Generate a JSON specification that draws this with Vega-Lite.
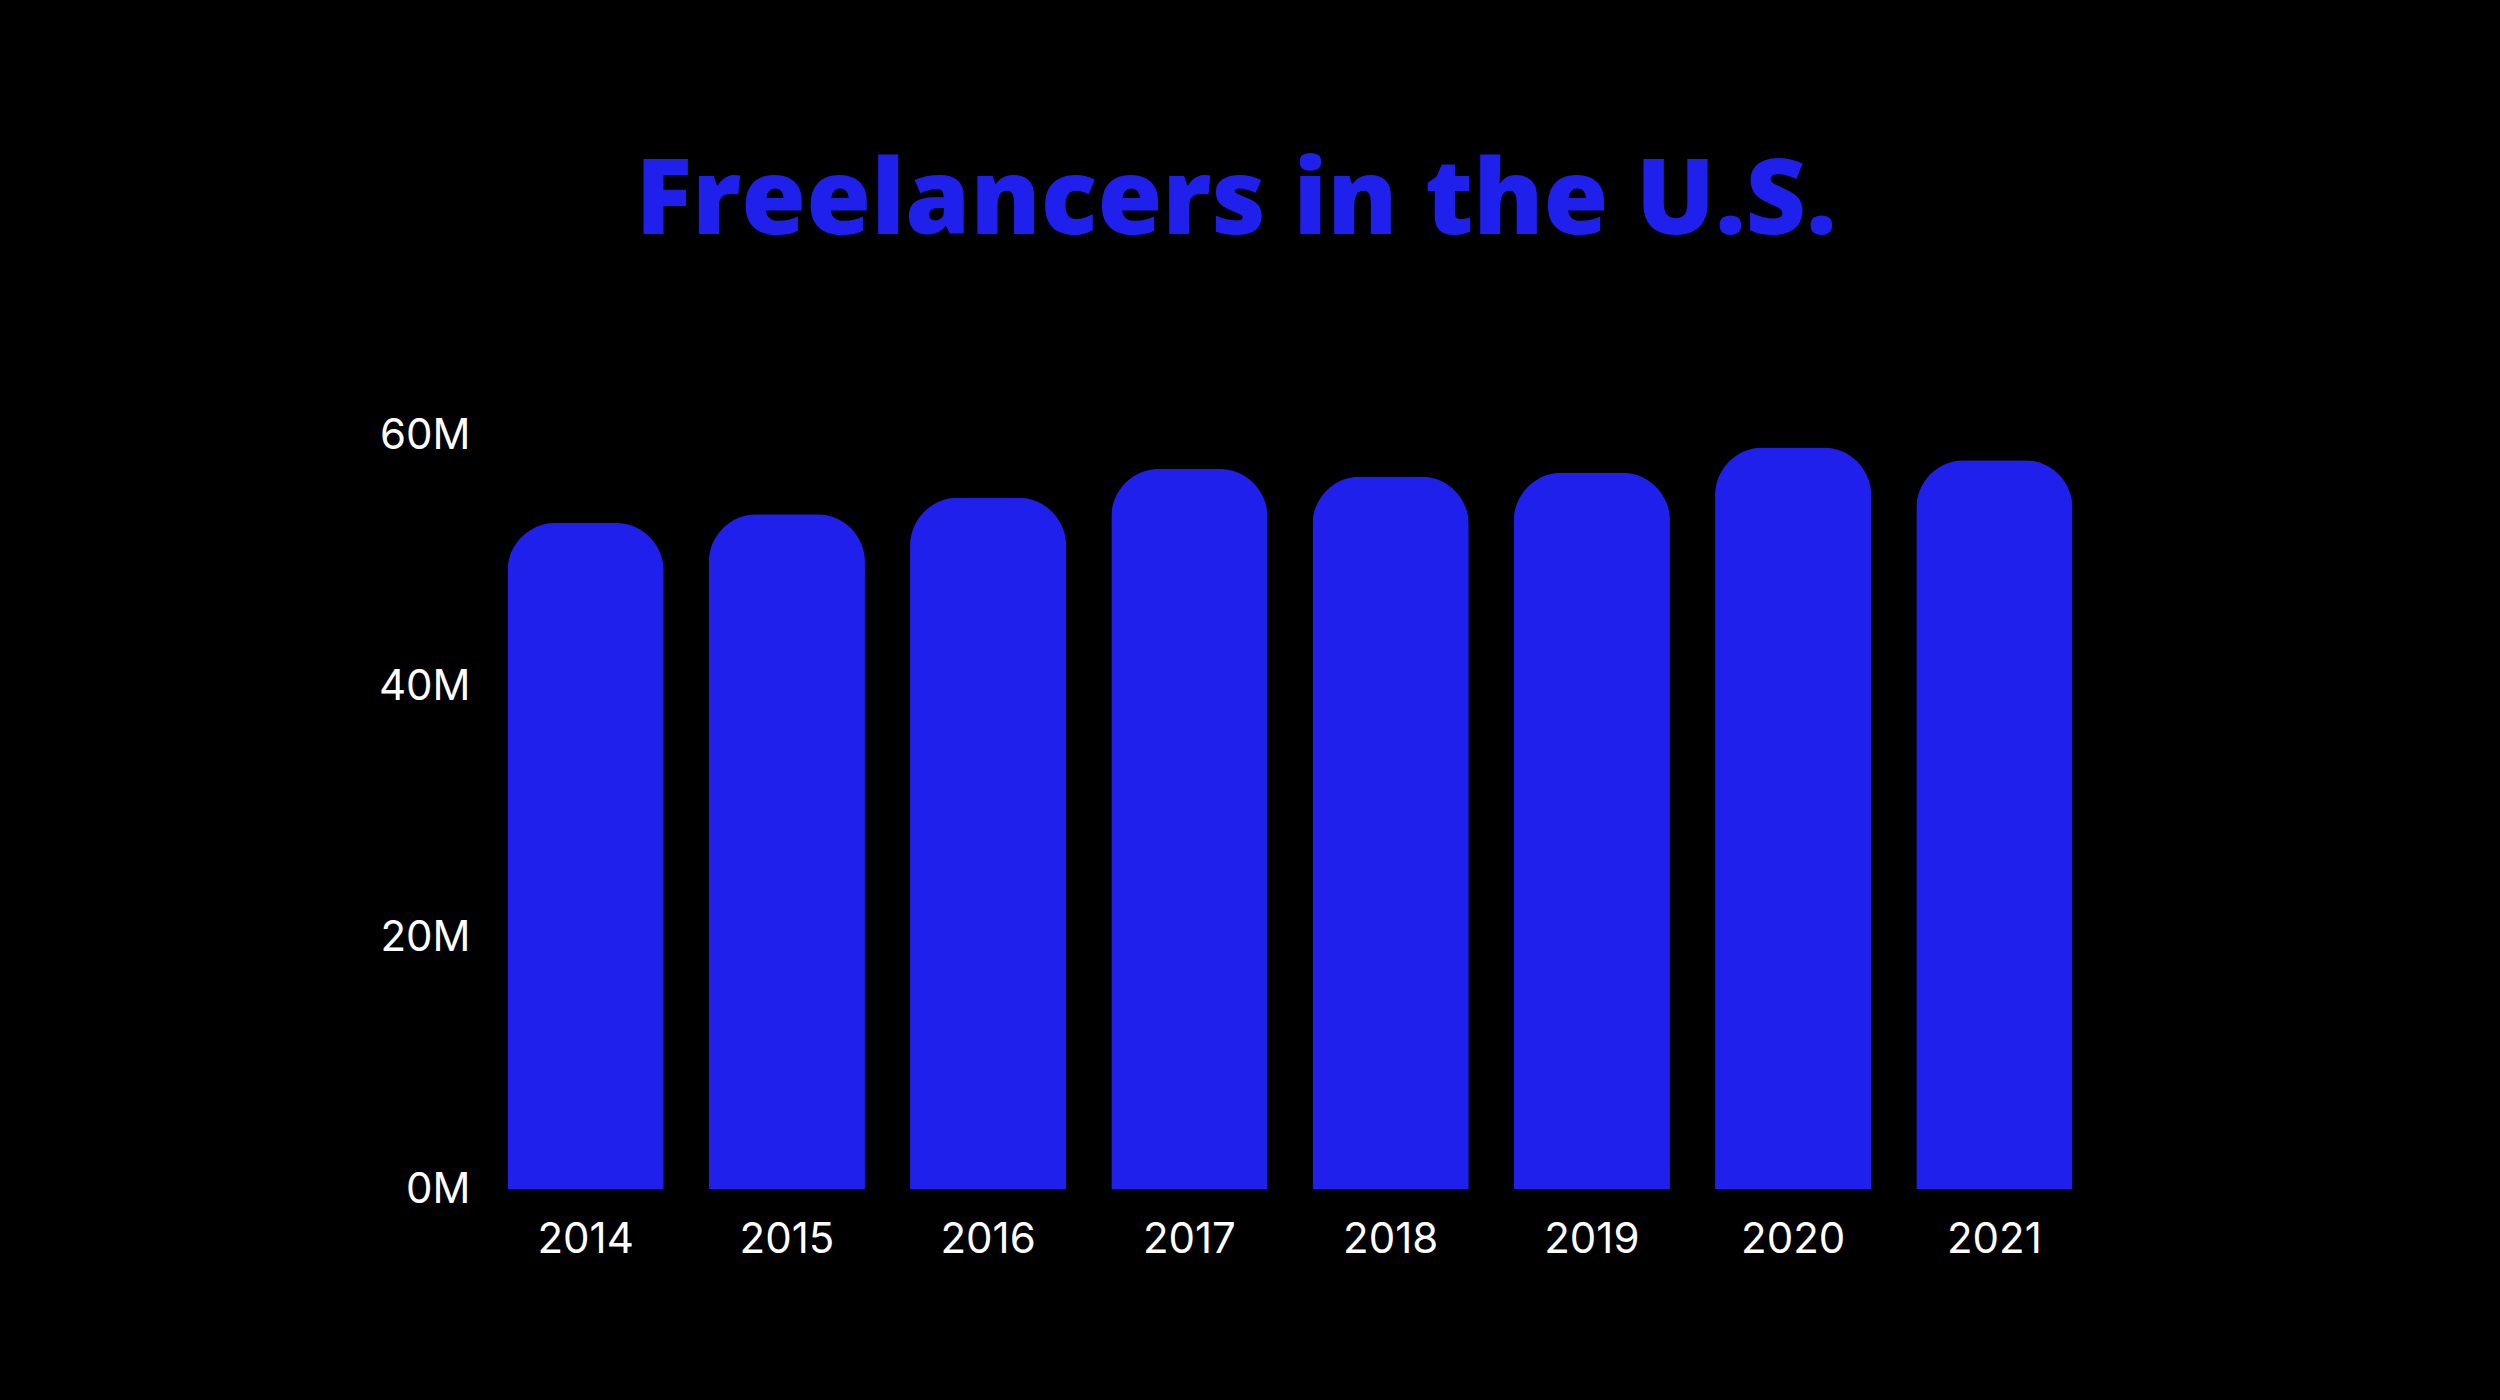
{
  "$schema": "https://vega.github.io/schema/vega-lite/v6.json",
  "autosize": {"type": "none"},
  "width": 1610,
  "height": 754,
  "padding": {"left": 485, "top": 435, "right": 405, "bottom": 211},
  "background": "#000000",
  "config": {"view": {"stroke": null}},
  "title": {
    "text": "Freelancers in the U.S.",
    "font": "Open Sans",
    "fontSize": 105,
    "fontWeight": 800,
    "color": "#2020EC",
    "anchor": "middle",
    "frame": "group",
    "dx": -54,
    "baseline": "alphabetic",
    "offset": 75
  },
  "data": {
    "values": [
      {"year": "2014", "freelancers": 53000000},
      {"year": "2015", "freelancers": 53700000},
      {"year": "2016", "freelancers": 55000000},
      {"year": "2017", "freelancers": 57300000},
      {"year": "2018", "freelancers": 56700000},
      {"year": "2019", "freelancers": 57000000},
      {"year": "2020", "freelancers": 59000000},
      {"year": "2021", "freelancers": 58000000}
    ]
  },
  "mark": {
    "type": "bar",
    "color": "#2020EC",
    "cornerRadiusTopLeft": 48,
    "cornerRadiusTopRight": 48
  },
  "encoding": {
    "x": {
      "field": "year",
      "type": "ordinal",
      "scale": {"paddingInner": 0.224, "paddingOuter": 0.112},
      "axis": {
        "title": null,
        "labelAngle": 0,
        "labelFont": "Inter",
        "labelFontSize": 42,
        "labelColor": "#FFFFFF",
        "labelPadding": 30,
        "domain": false,
        "ticks": false,
        "grid": false
      }
    },
    "y": {
      "field": "freelancers",
      "type": "quantitative",
      "scale": {"domain": [0, 60000000], "nice": false},
      "axis": {
        "title": null,
        "values": [0, 20000000, 40000000, 60000000],
        "labelExpr": "format(datum.value / 1000000, 'd') + 'M'",
        "labelFont": "Inter",
        "labelFontSize": 42,
        "labelColor": "#FFFFFF",
        "labelPadding": 15,
        "domain": false,
        "ticks": false,
        "grid": false
      }
    }
  }
}
